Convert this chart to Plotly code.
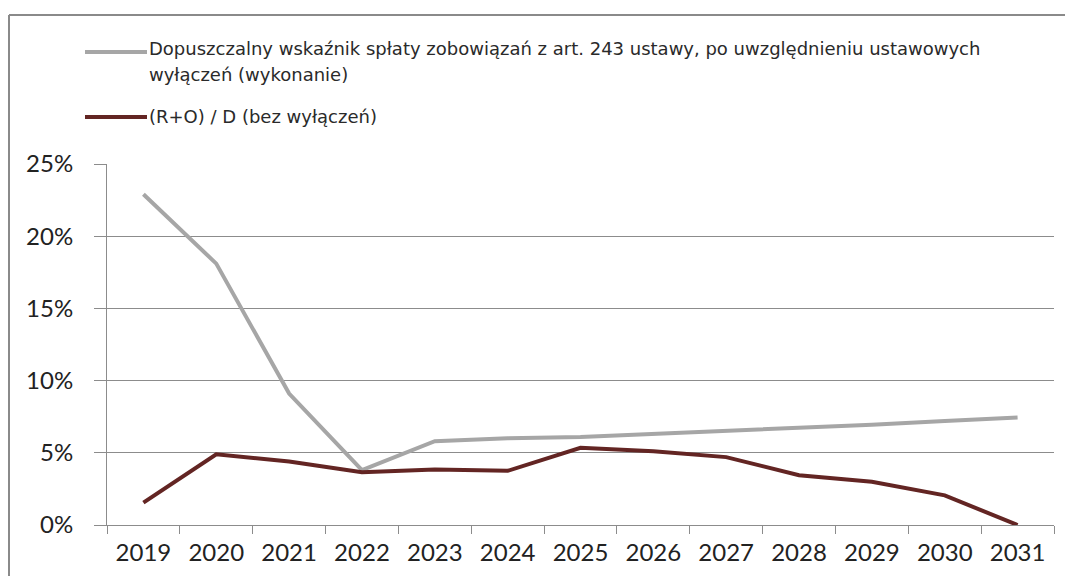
import plotly.graph_objects as go

years = ["2019", "2020", "2021", "2022", "2023", "2024", "2025",
         "2026", "2027", "2028", "2029", "2030", "2031"]
limit_vals = [0.229, 0.181, 0.091, 0.038, 0.058, 0.060, 0.061,
              0.063, 0.065, 0.067, 0.0695, 0.072, 0.0745]
ratio_vals = [0.0155, 0.049, 0.044, 0.0365, 0.0385, 0.0375, 0.0535,
              0.051, 0.047, 0.0345, 0.030, 0.0205, 0.0]
name_limit_1 = "Dopuszczalny wskaźnik spłaty zobowiązań z art. 243 ustawy, po uwzględnieniu ustawowych"
name_limit_2 = "wyłączeń (wykonanie)"
name_ratio = "(R+O) / D (bez wyłączeń)"
y_ticks = [0, 0.05, 0.10, 0.15, 0.20, 0.25]

GRAY = "#a6a6a6"
DARK = "#632523"
AXIS = "#8c8c8c"

OFF = 8  # page body margin
W, H = 1073 - 2 * OFF, 584 - 2 * OFF
L = 107 - OFF
T = 164 - OFF
R = W - (1054 - OFF)
B = H - (525 - OFF)
pw, ph = W - L - R, H - T - B


def px(sx):
    return (sx - OFF - L) / pw


def py(sy):
    return (H - B - (sy - OFF)) / ph


fig = go.Figure()
fig.add_trace(go.Scatter(x=years, y=limit_vals, mode="lines",
                         name=name_limit_1 + " " + name_limit_2,
                         line=dict(color=GRAY, width=4), showlegend=False))
fig.add_trace(go.Scatter(x=years, y=ratio_vals, mode="lines", name=name_ratio,
                         line=dict(color=DARK, width=4), showlegend=False))

# Manual legend
leg_font = dict(family="DejaVu Sans", size=18, color="#2a2a2a")
fig.add_shape(type="line", xref="paper", yref="paper", x0=px(85), x1=px(147),
              y0=py(52), y1=py(52), line=dict(color=GRAY, width=4))
fig.add_shape(type="line", xref="paper", yref="paper", x0=px(85), x1=px(147),
              y0=py(117), y1=py(117), line=dict(color=DARK, width=4))
for txt, yy in [(name_limit_1, 49), (name_limit_2, 75), (name_ratio, 117)]:
    fig.add_annotation(xref="paper", yref="paper", x=px(147), y=py(yy),
                       xanchor="left", yanchor="middle", text=txt,
                       showarrow=False, align="left", font=leg_font)

# Outer frame (left and top edges; the rest lies outside the picture)
frame = dict(color="#8a8a8a", width=2)
fig.add_shape(type="line", xref="paper", yref="paper", x0=px(OFF + 1),
              x1=px(OFF + 1), y0=py(15), y1=py(600), line=frame)
fig.add_shape(type="line", xref="paper", yref="paper", x0=px(OFF + 1),
              x1=px(1100), y0=py(15), y1=py(15), line=frame)

tick_font = dict(family="Lato", size=24, color="#222222")
fig.update_layout(
    width=W, height=H,
    margin=dict(l=L, r=R, t=T, b=B, autoexpand=False),
    paper_bgcolor="white", plot_bgcolor="white",
    showlegend=False,
    xaxis=dict(type="category", range=[-0.5, len(years) - 0.5],
               showline=True, linecolor=AXIS, linewidth=1, automargin=False,
               ticks="outside", tickson="boundaries", ticklen=8, tickcolor=AXIS,
               showgrid=False, tickfont=tick_font, ticklabelstandoff=6),
    yaxis=dict(range=[0, 0.25], tickvals=y_ticks, tickformat=".0%",
               showline=True, linecolor=AXIS, linewidth=1, automargin=False,
               ticks="outside", ticklen=12, tickcolor=AXIS,
               showgrid=True, gridcolor=AXIS, gridwidth=1, zeroline=False,
               tickfont=tick_font, ticklabelstandoff=16),
)

fig.write_html("out.html")
